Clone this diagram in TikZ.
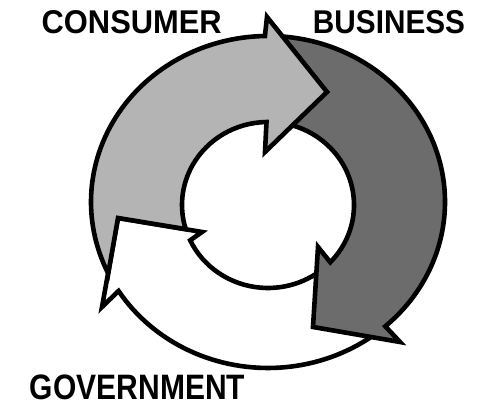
\documentclass[tikz,border=0pt]{standalone}
\usepackage{fontspec}
\setmainfont{Liberation Sans}
\usepackage{graphicx}
\definecolor{arrowlight}{RGB}{180,180,180}
\definecolor{arrowdark}{RGB}{108,108,108}
\begin{document}
\begin{tikzpicture}[x=1pt,y=1pt,
  arrowshape/.style={draw=black, line width=4.6pt, line join=miter, miter limit=10},
  txt/.style={inner sep=0pt, font=\bfseries}]
\useasboundingbox (0,0) rectangle (477,414);
\coordinate (Co) at (268,212);
\coordinate (Ci) at (268,209);
% white arrow (Government -> Consumer)
\path[arrowshape, fill=white]
  ([shift={(Co)}]-48.5:177 and 166) arc[start angle=-48.5, end angle=-147.6, x radius=177, y radius=166]
  -- (102,107) -- (118,196) -- (202,182)
  -- ([shift={(Ci)}]205.2:86 and 83) arc[start angle=205.2, end angle=316.4, x radius=86, y radius=83]
  -- cycle;
% dark arrow (Business -> Government)
\path[arrowshape, fill=arrowdark]
  ([shift={(Co)}]90:177 and 166) arc[start angle=90, end angle=-48.5, x radius=177, y radius=166]
  -- (400,72) -- (313,87) -- (318,167)
  -- ([shift={(Ci)}]-43.6:86 and 83) arc[start angle=-43.6, end angle=90, x radius=86, y radius=83]
  -- cycle;
% light arrow (Consumer -> Business)
\path[arrowshape, fill=arrowlight]
  ([shift={(Co)}]205.5:177 and 166) arc[start angle=205.5, end angle=91, x radius=177, y radius=166]
  -- (267,397) -- (327,322) -- (265,262)
  -- ([shift={(Ci)}]91:86 and 83) arc[start angle=91, end angle=196.9, x radius=86, y radius=83]
  -- (118,196) -- cycle;
% labels
\node[txt] (consumer) at (131.7,392.3) {\resizebox*{180pt}{23.3pt}{CONSUMER}};
\node[txt] (business) at (389,392.3) {\resizebox*{152pt}{23.3pt}{BUSINESS}};
\node[txt] (government) at (137.5,26.5) {\resizebox*{215pt}{25pt}{GOVERNMENT}};
\end{tikzpicture}
\end{document}
